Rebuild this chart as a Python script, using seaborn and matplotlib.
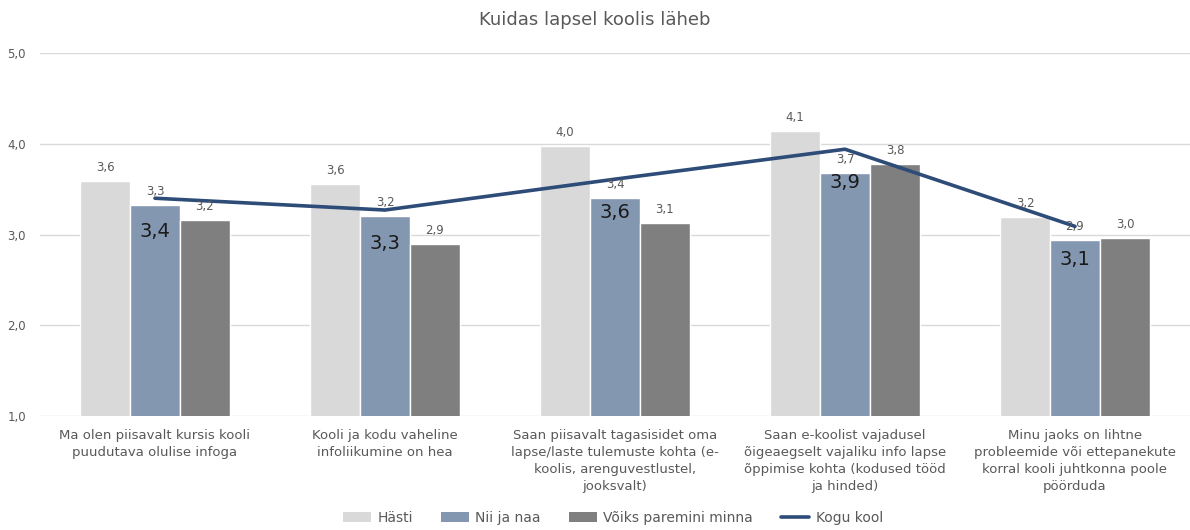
import numpy as np
import pandas as pd
import matplotlib
matplotlib.use("Agg")
import matplotlib.pyplot as plt
from matplotlib.patches import Patch
from matplotlib.lines import Line2D
import seaborn as sns

categories = [
    "Ma olen piisavalt kursis kooli\npuudutava olulise infoga",
    "Kooli ja kodu vaheline\ninfoliikumine on hea",
    "Saan piisavalt tagasisidet oma\nlapse/laste tulemuste kohta (e-\nkoolis, arenguvestlustel,\njooksvalt)",
    "Saan e-koolist vajadusel\nõigeaegselt vajaliku info lapse\nõppimise kohta (kodused tööd\nja hinded)",
    "Minu jaoks on lihtne\nprobleemide või ettepanekute\nkorral kooli juhtkonna poole\npöörduda",
]
series_names = ["Hästi", "Nii ja naa", "Võiks paremini minna"]
hasti = [3.59, 3.56, 3.98, 4.14, 3.19]
nii_ja_naa = [3.33, 3.20, 3.40, 3.68, 2.94]
voiks = [3.16, 2.90, 3.13, 3.78, 2.96]
kogu_kool = [3.40, 3.27, 3.61, 3.94, 3.09]
line_name = "Kogu kool"
title = "Kuidas lapsel koolis läheb"
yticks = [1.0, 2.0, 3.0, 4.0, 5.0]

bar_colors = ["#D9D9D9", "#8497B0", "#7F7F7F"]
line_color = "#2E4C78"
text_gray = "#595959"

sns.set_theme(style="white")
plt.rcParams["font.family"] = ["DejaVu Sans"]

rows = []
for name, vals in zip(series_names, [hasti, nii_ja_naa, voiks]):
    for c, v in zip(categories, vals):
        rows.append({"cat": c, "series": name, "value": v})
df = pd.DataFrame(rows)

fig = plt.figure(figsize=(11.9, 5.3), dpi=100)
ax = fig.add_axes([0.0336, 0.215, 0.9664, 0.685])

sns.barplot(data=df, x="cat", y="value", hue="series", order=categories,
            hue_order=series_names, palette=bar_colors, width=0.652,
            saturation=1, edgecolor="white", linewidth=1, ax=ax, legend=False)

fmt = lambda v: f"{v:.1f}".replace(".", ",")
for cont in ax.containers:
    ax.bar_label(cont, labels=[fmt(b.get_height()) for b in cont],
                 padding=5, fontsize=8.5, color=text_gray)

line_df = pd.DataFrame({"x": np.arange(len(categories)), "y": kogu_kool})
sns.lineplot(data=line_df, x="x", y="y", color=line_color, linewidth=2.6,
             ax=ax, legend=False)
for x, y in zip(line_df["x"], line_df["y"]):
    ax.annotate(fmt(y), (x, y), xytext=(0, -24), textcoords="offset points",
                ha="center", va="center", fontsize=14, color="#1a1a1a")

ax.set_ylim(1.0, 5.0)
ax.set_xlim(-0.5, len(categories) - 0.5)
ax.set_yticks(yticks)
ax.set_yticklabels([fmt(t) for t in yticks], fontsize=8.5, color=text_gray)
ax.yaxis.grid(True, color="#D9D9D9", linewidth=1)
ax.set_axisbelow(True)
for s in ax.spines.values():
    s.set_visible(False)
ax.tick_params(axis="both", length=0)
ax.tick_params(axis="y", pad=10)
ax.tick_params(axis="x", pad=9)
ax.set_xticks(range(len(categories)))
ax.set_xticklabels(categories, fontsize=9.5, color=text_gray, linespacing=1.4)
ax.set_xlabel("")
ax.set_ylabel("")

fig.text(0.5, 0.962, title, ha="center", va="center", fontsize=13, color=text_gray)

handles = [Patch(facecolor=c, edgecolor="none") for c in bar_colors]
handles.append(Line2D([0], [0], color=line_color, linewidth=2.6))
leg = fig.legend(handles, series_names + [line_name], loc="center",
                 bbox_to_anchor=(0.515, 0.023), ncol=4, frameon=False,
                 fontsize=10, handlelength=2.0, handleheight=0.8,
                 columnspacing=2.0, handletextpad=0.5)
for t in leg.get_texts():
    t.set_color(text_gray)

fig.savefig("out.png", dpi=100)
